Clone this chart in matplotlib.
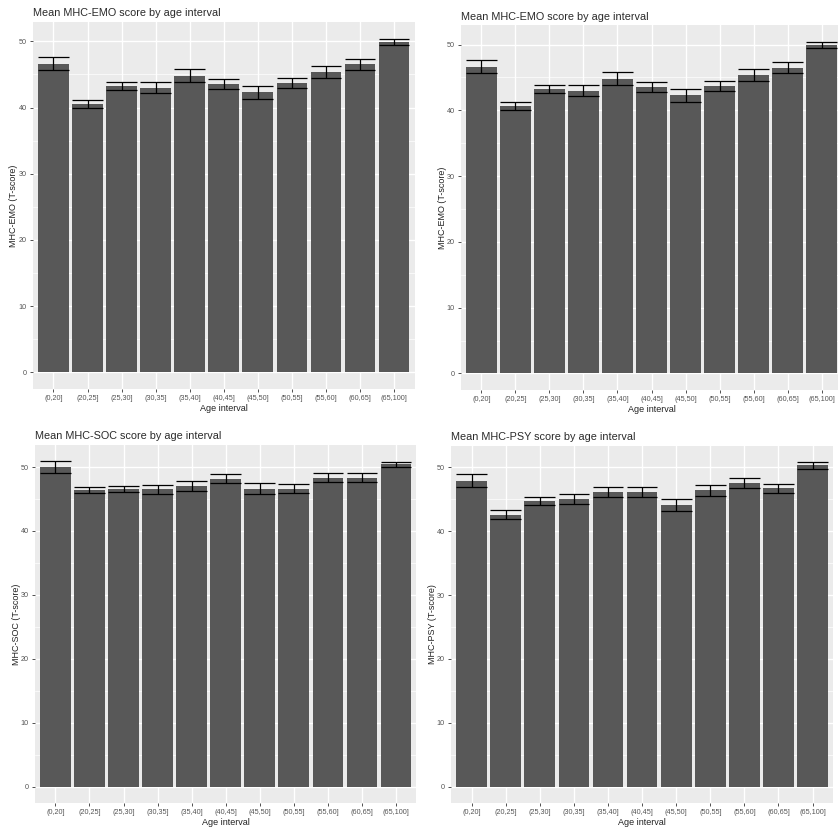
import numpy as np
import matplotlib
matplotlib.use("Agg")
import matplotlib.pyplot as plt

plt.rcParams["font.family"] = ["Liberation Sans", "DejaVu Sans"]

# age groups
age_labels = ["(0,20]", "(20,25]", "(25,30]", "(30,35]", "(35,40]", "(40,45]",
              "(45,50]", "(50,55]", "(55,60]", "(60,65]", "(65,100]"]

# means and error half-widths
emo_mean = [46.6, 40.6, 43.3, 43.0, 44.8, 43.6, 42.3, 43.7, 45.4, 46.5, 49.9]
emo_err = [1.0, 0.6, 0.6, 0.8, 0.95, 0.75, 1.0, 0.8, 0.9, 0.8, 0.5]

soc_mean = [50.0, 46.4, 46.6, 46.5, 47.0, 48.2, 46.6, 46.6, 48.3, 48.3, 50.4]
soc_err = [0.9, 0.5, 0.5, 0.65, 0.8, 0.7, 0.85, 0.7, 0.7, 0.7, 0.45]

psy_mean = [47.9, 42.6, 44.7, 45.0, 46.2, 46.2, 44.1, 46.4, 47.5, 46.7, 50.3]
psy_err = [1.0, 0.65, 0.65, 0.75, 0.8, 0.8, 0.95, 0.85, 0.8, 0.7, 0.5]

W, H = 838, 838
fig = plt.figure(figsize=(W / 100, H / 100), dpi=100)
fig.patch.set_facecolor("white")


def px_axes(left, top, right, bottom):
    return fig.add_axes([left / W, 1 - bottom / H, (right - left) / W, (bottom - top) / H])


def panel(ax, mean, err, title, ylab, ylab_x):
    x = np.arange(1, len(age_labels) + 1)
    mean = np.array(mean)
    err = np.array(err)
    top = (mean + err).max()
    ax.set_facecolor("#EBEBEB")
    ax.set_xlim(0.4, len(age_labels) + 0.6)
    ax.set_ylim(-0.05 * top, 1.05 * top)
    for v in [5, 15, 25, 35, 45]:
        ax.axhline(v, color="white", lw=0.5, zorder=0)
    for v in range(0, 60, 10):
        ax.axhline(v, color="white", lw=1.0, zorder=0)
    for xi in x:
        ax.axvline(xi, color="white", lw=1.0, zorder=0)
    ax.bar(x, mean, width=0.9, color="#585858", zorder=2)
    ax.vlines(x, mean - err, mean + err, color="black", lw=0.9, zorder=3)
    ax.hlines(mean - err, x - 0.45, x + 0.45, color="black", lw=0.9, zorder=3)
    ax.hlines(mean + err, x - 0.45, x + 0.45, color="black", lw=0.9, zorder=3)
    for s in ax.spines.values():
        s.set_visible(False)
    ax.set_xticks(x)
    ax.set_xticklabels(age_labels)
    ax.set_yticks(range(0, 60, 10))
    ax.tick_params(axis="both", labelsize=5.2, colors="#333333", length=2.5,
                   width=0.6, labelcolor="#555555", pad=2)
    ax.set_xlabel("Age interval", fontsize=6.5, color="#222222", labelpad=1)
    ax.set_title(title, loc="left", fontsize=7.8, color="#2a2a2a", pad=4)
    ax.set_ylabel(ylab, fontsize=6.5, color="#222222")
    ax.yaxis.set_label_coords(ylab_x, 0.5)


ax1 = px_axes(33, 22, 414.5, 389)
panel(ax1, emo_mean, emo_err, "Mean MHC-EMO score by age interval", "MHC-EMO (T-score)", -0.039)

ax2 = px_axes(461, 25.3, 842, 390)
panel(ax2, emo_mean, emo_err, "Mean MHC-EMO score by age interval", "MHC-EMO (T-score)", -0.036)

ax3 = px_axes(35, 445, 416.4, 803)
panel(ax3, soc_mean, soc_err, "Mean MHC-SOC score by age interval", "MHC-SOC (T-score)", -0.037)

ax4 = px_axes(451.2, 446, 833, 803)
panel(ax4, psy_mean, psy_err, "Mean MHC-PSY score by age interval", "MHC-PSY (T-score)", -0.036)

fig.savefig("out.png", dpi=100)
